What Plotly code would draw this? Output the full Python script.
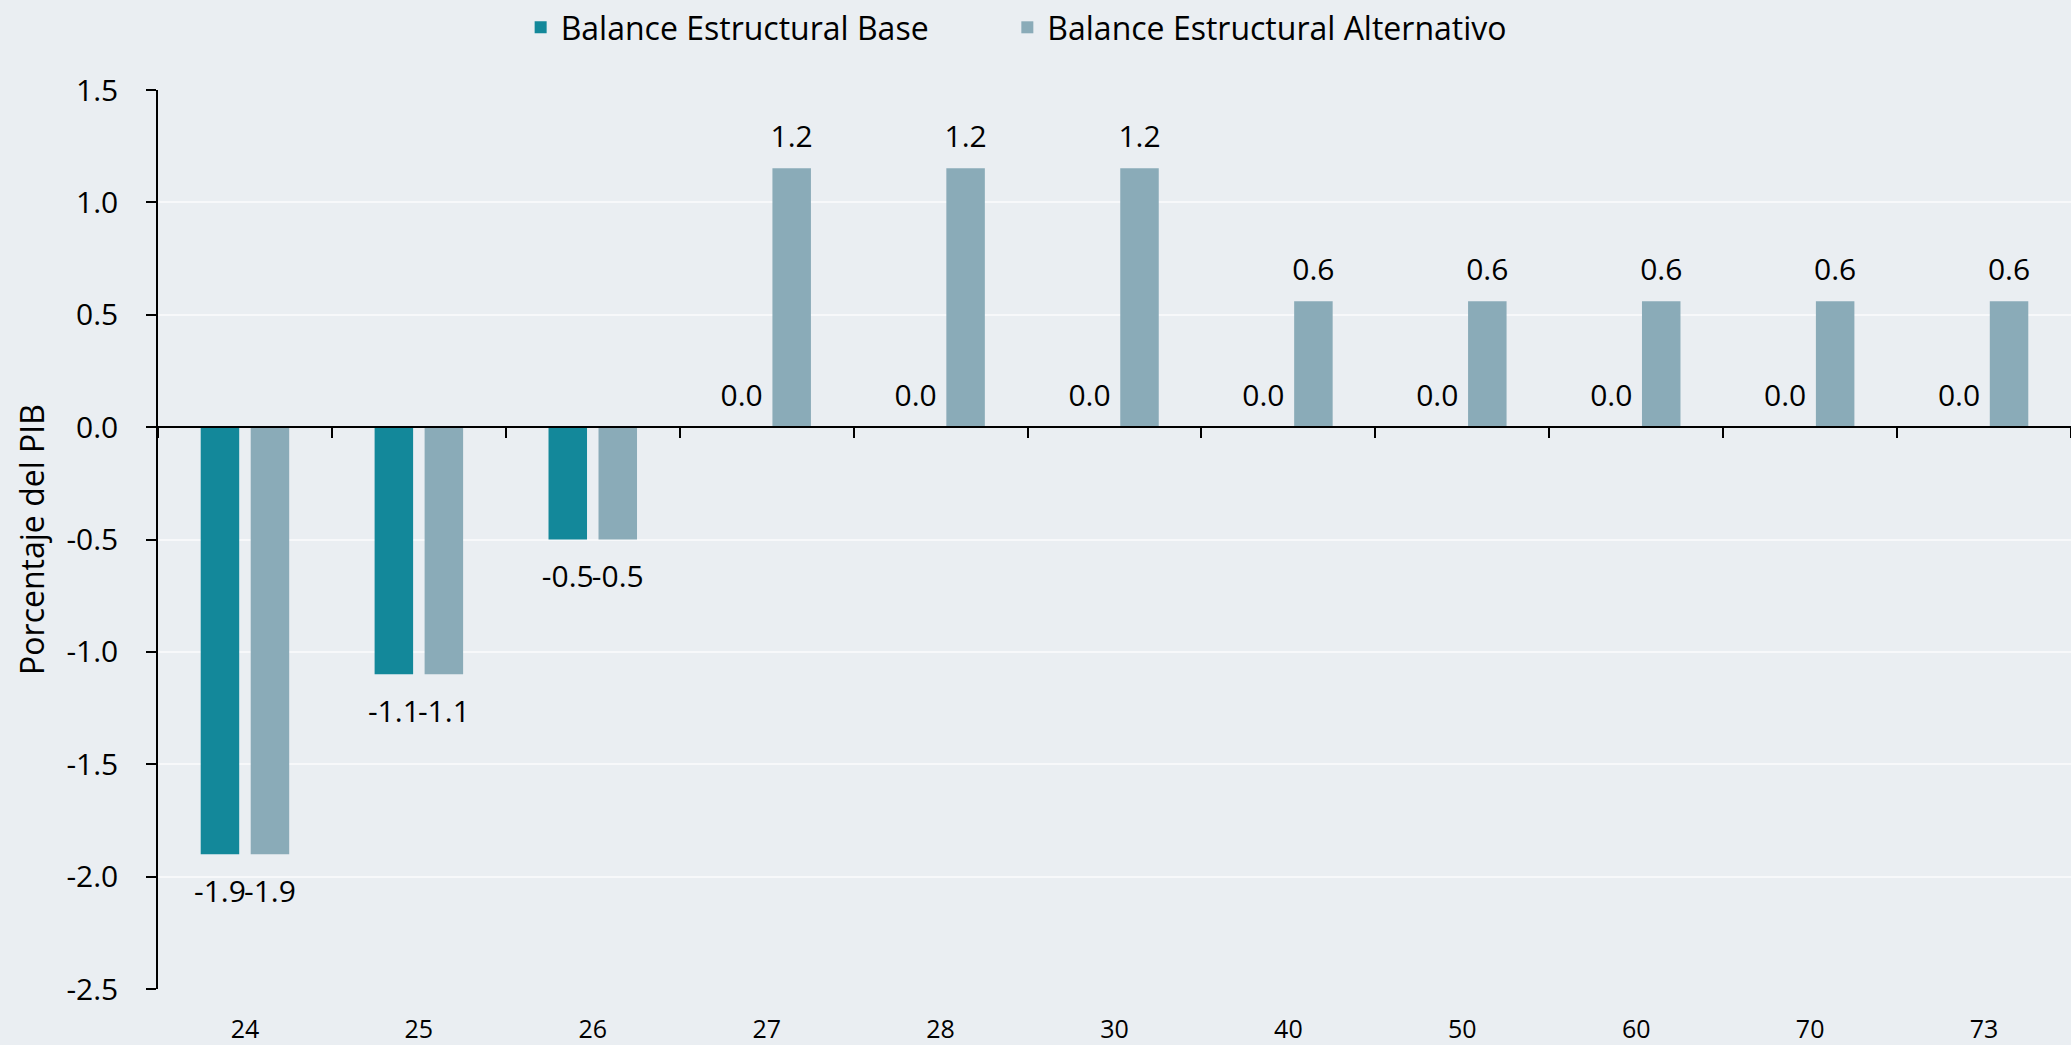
import plotly.graph_objects as go

categories = ["24", "25", "26", "27", "28", "30", "40", "50", "60", "70", "73"]
base_values = [-1.9, -1.1, -0.5, 0.0, 0.0, 0.0, 0.0, 0.0, 0.0, 0.0, 0.0]
alt_values = [-1.9, -1.1, -0.5, 1.152, 1.152, 1.152, 0.56, 0.56, 0.56, 0.56, 0.56]
y_ticks = [-2.5, -2.0, -1.5, -1.0, -0.5, 0.0, 0.5, 1.0, 1.5]
series_names = ["Balance Estructural Base", "Balance Estructural Alternativo"]

FONT = "Open Sans"
COLORS = ["#13889a", "#8aabb8"]
LEGENDS = ["legend", "legend2"]
LEGEND_X = [0.2514, 0.4864]
LABEL_SIZE = 30

fig = go.Figure()
for name, vals, col, lg in zip(series_names, [base_values, alt_values], COLORS, LEGENDS):
    fig.add_trace(go.Bar(
        name=name, x=categories, y=vals, legend=lg,
        marker=dict(color=col, line=dict(width=0)),
        hoverinfo="x+y",
    ))

# value labels: grouped text-only points aligned with the bars (on the zero-line axis)
for name, vals in zip(series_names, [base_values, alt_values]):
    fig.add_trace(go.Scatter(
        x=categories, y=vals, xaxis="x2", yaxis="y",
        mode="markers+text",
        text=[f"{v:.1f}" for v in vals],
        textposition=["top center" if v >= 0 else "bottom center" for v in vals],
        marker=dict(size=[20 if v >= 0 else 39 for v in vals], opacity=0),
        textfont=dict(family=FONT, size=LABEL_SIZE, color="black"),
        showlegend=False, hoverinfo="skip", cliponaxis=False,
    ))

n = len(categories)
zero_pos = (0 - y_ticks[0]) / (y_ticks[-1] - y_ticks[0])

legend_style = dict(orientation="h", xref="container", yref="container",
                    xanchor="left", y=1.0, yanchor="top",
                    font=dict(family=FONT, size=32, color="black"),
                    bgcolor="rgba(0,0,0,0)", itemwidth=30)

fig.update_layout(
    width=2071, height=1045,
    margin=dict(l=158, r=0, t=90, b=50),
    paper_bgcolor="#eaeef2", plot_bgcolor="rgba(0,0,0,0)",
    barmode="group", bargap=0.425, bargroupgap=0.23,
    scattermode="group", scattergap=0.425,
    font=dict(family=FONT, size=30, color="black"),
    showlegend=True,
    legend=dict(x=LEGEND_X[0], **legend_style),
    legend2=dict(x=LEGEND_X[1], **legend_style),
    xaxis=dict(type="category", range=[-0.5, n - 0.5], showline=False,
               showgrid=False, zeroline=False, ticks="outside", ticklen=18,
               tickcolor="rgba(0,0,0,0)",
               tickfont=dict(family=FONT, size=25, color="black")),
    xaxis2=dict(type="category", overlaying="x", anchor="free", position=zero_pos,
                range=[-0.5, n - 0.5], showline=True, linecolor="black",
                linewidth=1.5, ticks="outside", ticklen=10, tickwidth=1.5,
                tickcolor="black", tickson="boundaries",
                showticklabels=False, showgrid=False, zeroline=False),
    yaxis=dict(range=[y_ticks[0], y_ticks[-1]], tickmode="array",
               tickvals=y_ticks, ticktext=[f"{v:.1f}" for v in y_ticks],
               showline=True, linecolor="black", linewidth=1.5,
               ticks="outside", ticklen=10, tickwidth=1.5, tickcolor="black",
               ticklabelstandoff=22,
               showgrid=True, gridcolor="rgba(255,255,255,0.6)", gridwidth=1.5,
               zeroline=False,
               tickfont=dict(family=FONT, size=30, color="black"),
               title=dict(text="Porcentaje del PIB", standoff=12,
                          font=dict(family=FONT, size=32, color="black"))),
)

fig.write_html("out.html")
